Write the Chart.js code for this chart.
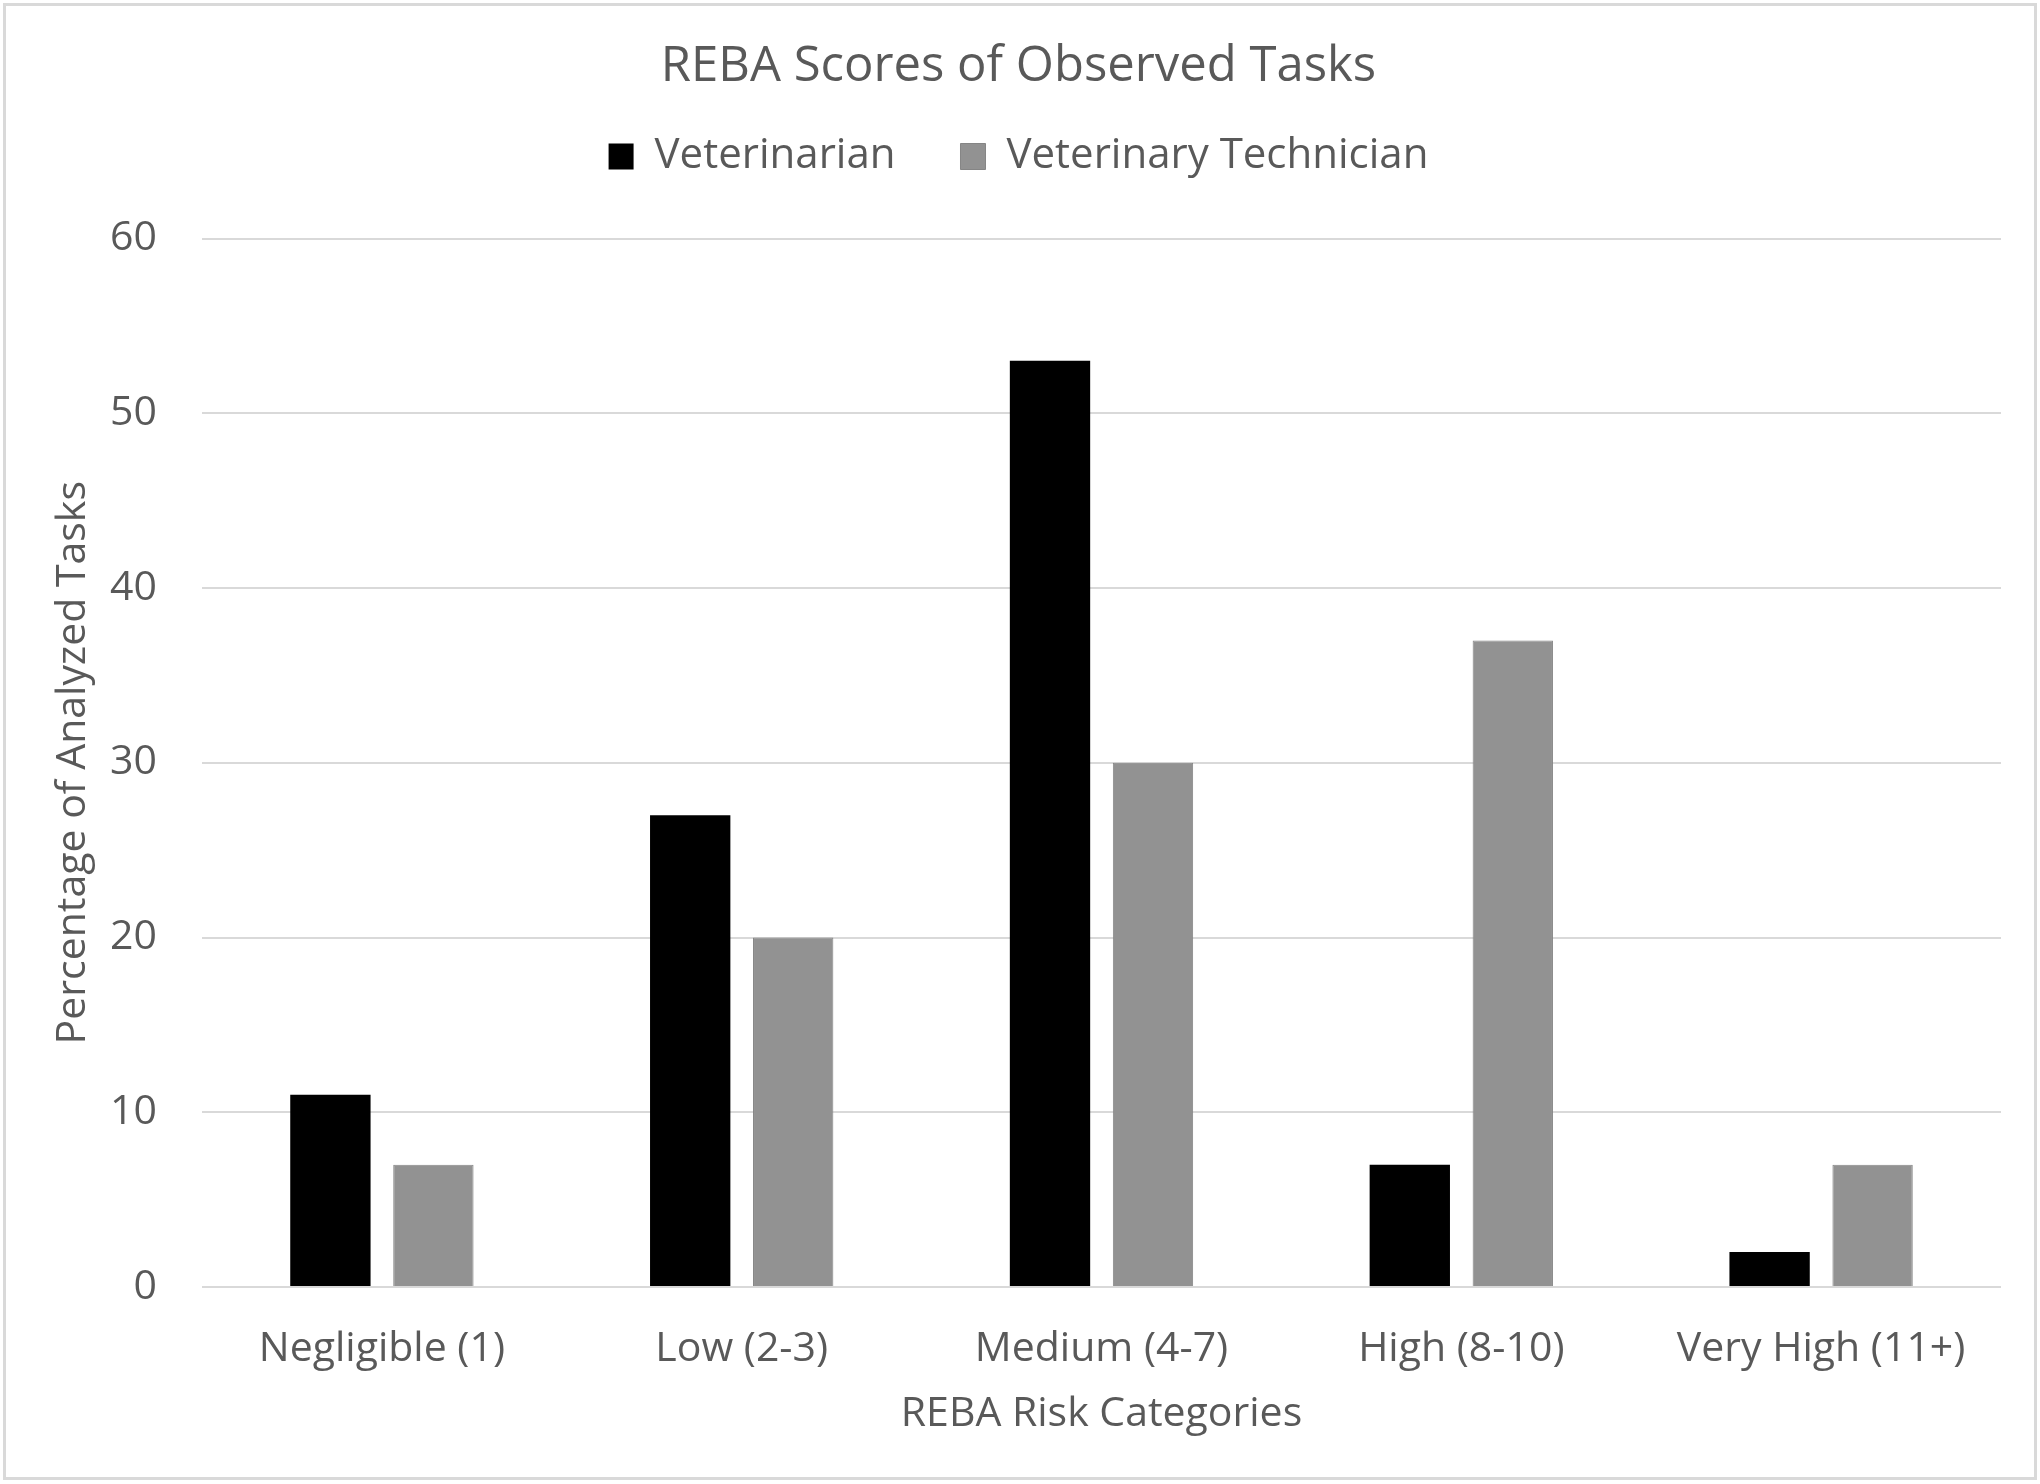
<!DOCTYPE html>
<html>
<head>
<meta charset="utf-8">
<script src="https://cdn.jsdelivr.net/npm/chart.js@4.4.1/dist/chart.umd.min.js"></script>
<style>
  html, body { margin: 0; padding: 0; background: #fff; }
  #wrap { width: 2040px; height: 1484px; position: relative; }
</style>
</head>
<body>
<div id="wrap"><canvas id="rebaChart"></canvas></div>
<script>
const categories = ["Negligible (1)", "Low (2-3)", "Medium (4-7)", "High (8-10)", "Very High (11+)"];
const veterinarian = [11, 27, 53, 7, 2];
const technician = [7, 20, 30, 37, 7];
const yTicks = [0, 10, 20, 30, 40, 50, 60];

const textColor = "#595959";
const gridColor = "#d9d9d9";
const fontFamily = "'Open Sans'";

// white page with the light grey frame round the chart
const framePlugin = {
    id: "frame",
    beforeDraw(chart) {
        const c = chart.ctx;
        c.save();
        c.fillStyle = "#ffffff";
        c.fillRect(0, 0, chart.width, chart.height);
        c.strokeStyle = gridColor;
        c.lineWidth = 3;
        c.strokeRect(4.5, 4.5, chart.width - 9, chart.height - 10);
        c.restore();
    },
};

const ctx = document.getElementById("rebaChart").getContext("2d");
const rebaChart = new Chart(ctx, {
    type: "bar",
    data: {
        labels: categories,
        datasets: [
            {
                label: "Veterinarian",
                data: veterinarian,
                backgroundColor: "#000000",
                borderWidth: 0,
            },
            {
                label: "Veterinary Technician",
                data: technician,
                backgroundColor: "#929292",
                borderColor: "#858585",
                borderWidth: 1,
            },
        ],
    },
    plugins: [framePlugin],
    options: {
        responsive: true,
        maintainAspectRatio: false,
        animation: false,
        devicePixelRatio: 1,
        categoryPercentage: 0.5725,
        barPercentage: 0.78,
        layout: {
            padding: { top: 35, right: 39, bottom: 0, left: 36 },
        },
        plugins: {
            title: {
                display: true,
                text: "REBA Scores of Observed Tasks",
                color: textColor,
                font: { family: fontFamily, size: 49, weight: "normal" },
                padding: { top: 3, bottom: -26.3 },
            },
            // empty spacer between legend and plot area
            subtitle: {
                display: true,
                text: "",
                weight: 500,
                font: { size: 10, lineHeight: 1 },
                padding: { top: 0, bottom: 41 },
            },
            legend: {
                display: true,
                position: "top",
                labels: {
                    color: textColor,
                    font: { family: fontFamily, size: 42 },
                    boxWidth: 25,
                    boxHeight: 26,
                    padding: 65,
                },
            },
            tooltip: { enabled: false },
        },
        scales: {
            x: {
                grid: { display: false, drawTicks: false, tickLength: 0 },
                border: { display: false },
                ticks: {
                    color: textColor,
                    font: { family: fontFamily, size: 41 },
                    padding: 38,
                    maxRotation: 0,
                },
                title: {
                    display: true,
                    text: "REBA Risk Categories",
                    color: textColor,
                    font: { family: fontFamily, size: 41 },
                    padding: { top: 0, bottom: 45 },
                },
                afterFit(scale) {
                    scale.height = 197;
                },
            },
            y: {
                min: 0,
                max: 60,
                afterBuildTicks(scale) {
                    scale.ticks = yTicks.map((v) => ({ value: v }));
                },
                grid: { color: gridColor, lineWidth: 2, drawTicks: false, tickLength: 0 },
                border: { display: false },
                ticks: {
                    color: textColor,
                    font: { family: fontFamily, size: 41 },
                    padding: 45,
                },
                title: {
                    display: true,
                    text: "Percentage of Analyzed Tasks",
                    color: textColor,
                    font: { family: fontFamily, size: 41 },
                    padding: { top: 13, bottom: 0 },
                },
                afterFit(scale) {
                    scale.width = 166;
                },
            },
        },
    },
});
</script>
</body>
</html>
